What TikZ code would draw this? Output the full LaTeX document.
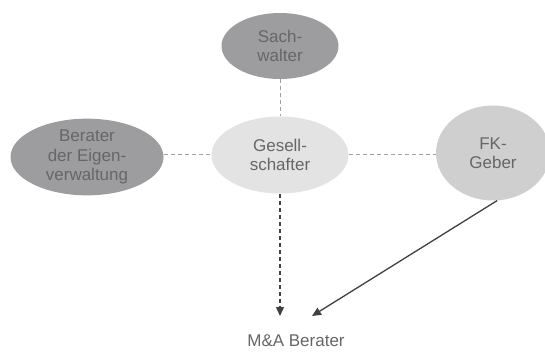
\documentclass[tikz,border=0pt]{standalone}
\usepackage{fontspec}
\setmainfont{Liberation Sans}
\usetikzlibrary{shapes.geometric,arrows.meta}
\definecolor{darkfill}{HTML}{9D9D9F}
\definecolor{lightfill}{HTML}{E3E3E4}
\definecolor{midfill}{HTML}{CFCFD0}
\definecolor{txt}{HTML}{666666}
\definecolor{dashgray}{HTML}{A0A0A0}
\definecolor{arrowcol}{HTML}{404040}
\tikzset{
  oval/.style={ellipse, inner sep=0pt, text=txt, align=center,
    font=\fontsize{17}{19.5}\selectfont},
  linkline/.style={dashgray, line width=1pt, dash pattern=on 4pt off 3pt},
  darkarrow/.style={arrowcol, line width=1.3pt, -{Triangle[length=9pt,width=8pt]}},
}
\begin{document}
\begin{tikzpicture}[x=1pt,y=-1pt]
\useasboundingbox (0,0) rectangle (545,352);
\clip (0,0) rectangle (545,352);
\node[oval, fill=darkfill, minimum width=117pt, minimum height=66pt] (sach) at (280,46) {Sach-\\walter};
\node[oval, fill=darkfill, minimum width=153pt, minimum height=71pt] (ber) at (87,157) {Berater\\der Eigen-\\verwaltung};
\node[oval, fill=lightfill, minimum width=137pt, minimum height=77pt] (ges) at (280,155) {Gesell-\\schafter};
\node[oval, fill=midfill, minimum width=114pt, minimum height=95pt] (fk) at (493,153) {FK-\\Geber};
\node[text=txt, font=\fontsize{17}{19.5}\selectfont, inner sep=0pt] (ma) at (296,341) {M\&A Berater};
\coordinate (t1) at (280,316);
\coordinate (t2) at (312,316);
\draw[linkline] (sach) -- (ges);
\draw[linkline] (ber.east |- ges) -- (ges);
\draw[linkline] (ges) -- (fk.west |- ges);
\draw[darkarrow, dash pattern=on 4pt off 3pt] (ges.south) -- (t1);
\draw[darkarrow] (fk.275) -- (t2);
\end{tikzpicture}
\end{document}
